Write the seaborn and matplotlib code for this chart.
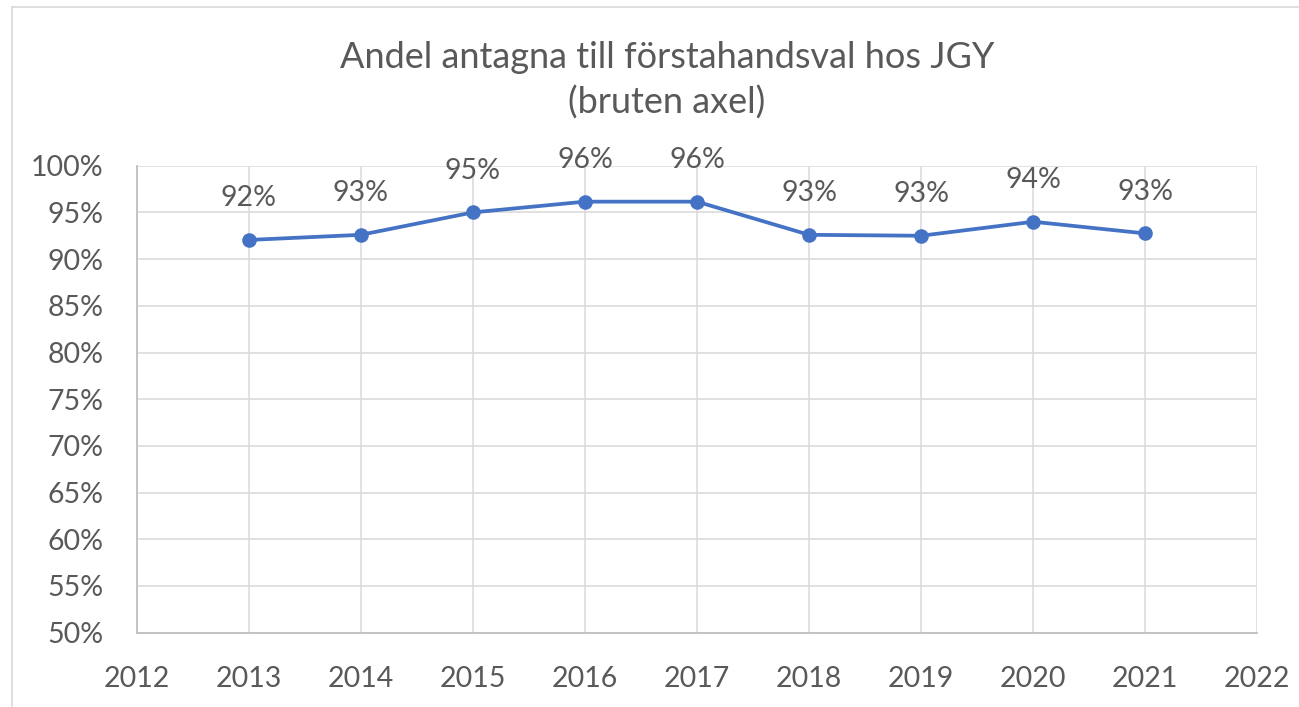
import matplotlib
matplotlib.use("Agg")
import matplotlib.pyplot as plt
import seaborn as sns
import pandas as pd
from matplotlib.lines import Line2D

years = [2013, 2014, 2015, 2016, 2017, 2018, 2019, 2020, 2021]
share = [92.05, 92.6, 95.0, 96.15, 96.15, 92.6, 92.5, 94.0, 92.75]
labels = ["92%", "93%", "95%", "96%", "96%", "93%", "93%", "94%", "93%"]
x_ticks = list(range(2012, 2023))
y_ticks = list(range(50, 101, 5))
title = "Andel antagna till förstahandsval hos JGY\n(bruten axel)"

sns.set_theme(style="white")
plt.rcParams['font.family'] = ['Lato', 'DejaVu Sans']

W, H = 1299, 707
fig = plt.figure(figsize=(W / 100, H / 100), dpi=100)
ax = fig.add_axes([136.7 / W, 1 - 632.7 / H, (1257.3 - 136.7) / W, (632.7 - 165.7) / H])

df = pd.DataFrame({"year": years, "share": share})
sns.lineplot(data=df, x="year", y="share", ax=ax, color="#4472C4", linewidth=2.7,
             marker="o", markersize=10.5, markeredgewidth=0, zorder=3)

txt = "#595959"
for xv, yv, lab in zip(years, share, labels):
    ax.annotate(lab, (xv, yv), xytext=(0, 30), textcoords="offset points",
                ha="center", va="center", fontsize=20.5, color=txt)

ax.set_xlim(2012, 2022)
ax.set_ylim(50, 100)
ax.set_xticks(x_ticks)
ax.set_yticks(y_ticks)
ax.set_xticklabels([str(v) for v in x_ticks])
ax.set_yticklabels([f"{v}%" for v in y_ticks])
ax.tick_params(axis="both", length=0, labelsize=20.5, labelcolor=txt)
ax.tick_params(axis="y", pad=24)
ax.tick_params(axis="x", pad=24)
ax.grid(True, color="#d9d9d9", linewidth=1.1)
ax.set_axisbelow(True)
ax.set_xlabel("")
ax.set_ylabel("")
for s in ["top", "right"]:
    ax.spines[s].set_visible(False)
for s in ["left", "bottom"]:
    ax.spines[s].set_color("#bfbfbf")
    ax.spines[s].set_linewidth(1.3)

fig.text(667 / W, 1 - 80 / H, title, ha="center", va="center", fontsize=26,
         color=txt, linespacing=1.4)

# chart outer border
fig.add_artist(Line2D([12 / W, 12 / W], [0, 1 - 7 / H], color="#d9d9d9", linewidth=1.2,
                      transform=fig.transFigure))
fig.add_artist(Line2D([12 / W, 1], [1 - 7 / H, 1 - 7 / H], color="#d9d9d9", linewidth=1.2,
                      transform=fig.transFigure))

fig.savefig("out.png", dpi=100, facecolor="white")
